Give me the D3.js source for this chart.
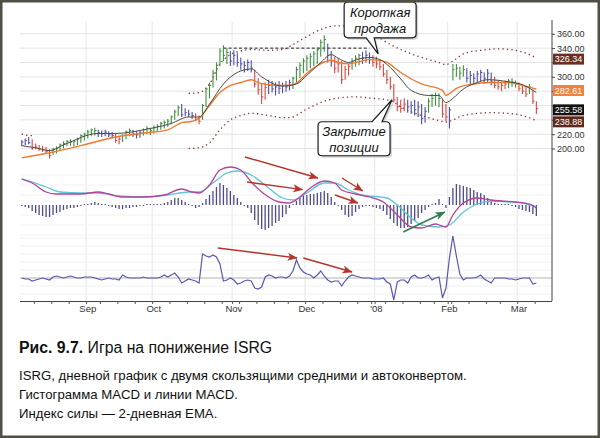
<!DOCTYPE html>
<html><head><meta charset="utf-8">
<script src="https://cdn.jsdelivr.net/npm/d3@7"></script>
<style>body{margin:0;background:#fff}svg{display:block}</style>
</head><body>
<svg id="c" width="600" height="438"></svg>
<script>
// ---------- DATA ----------
// daily bars, 7 Aug 2007 .. 10 Mar 2008 (trading-day index 0..148)
const high = [212,214,216,213,207,205,204,202,199,201,203,207,210,212,213,212,215,220,222,226,
228,229,226,225,226,224,223,221,216,220,225,228,226,224,225,228,231,229,232,234,
237,239,241,246,254,260,262,256,254,251,249,246,262,285,292,310,320,340,344,340,
336,337,333,327,322,324,323,310,298,290,292,296,294,292,294,292,294,296,300,314,
320,326,330,333,336,341,352,358,346,336,328,326,322,315,318,326,330,332,335,337,
334,330,328,325,318,310,300,290,272,268,270,268,266,268,266,262,258,270,276,278,
277,268,262,258,318,318,314,316,312,308,305,308,310,306,311,306,300,296,293,295,
297,298,295,292,289,286,290,282,266];
const low = [203,205,206,198,199,197,195,193,186,191,193,198,200,203,204,203,205,208,211,214,
217,218,216,216,217,216,214,208,206,209,213,217,216,214,215,218,220,219,221,224,
226,228,230,234,240,245,244,245,244,241,238,234,240,258,270,285,295,315,322,318,
315,316,314,310,306,308,306,285,275,262,268,276,278,274,276,277,279,281,283,292,
298,305,308,312,315,318,328,335,320,314,305,306,290,296,302,310,314,316,318,320,
318,314,312,309,300,290,282,264,252,250,252,250,248,246,244,234,236,250,258,260,
258,243,238,228,295,300,296,300,292,288,290,292,294,290,292,288,284,282,280,283,
284,286,285,280,276,272,276,262,248];
const close = [209,211,208,201,202,199,198,196,190,199,200,205,207,210,209,210,213,218,220,223,
226,225,222,221,223,219,218,211,213,218,223,225,220,219,222,226,228,225,229,231,
235,236,238,244,251,257,247,250,248,246,241,238,260,283,288,305,316,336,330,334,
322,330,320,318,316,320,312,290,282,272,285,288,283,286,284,288,286,292,298,310,
316,322,326,328,332,338,348,352,330,322,312,318,296,310,314,322,326,330,326,330,
324,320,318,314,304,296,286,268,258,256,262,258,260,254,258,242,252,266,270,274,
270,248,244,254,310,312,305,310,298,302,298,304,306,298,305,294,288,286,288,290,
294,293,290,284,280,276,286,266,255.58];
// impulse state per bar: g = green, b = blue, r = red
const impulse = ("bbbrrrrrrgggggggggggggbbbbbrrgggbbbggggggggggg" +
  "bbbbrrggggggggbbbbbbbrrrrbbbbbbbggggggggggbbrrrrrgggbbb" +
  "rrrrrrrrrrbbbbbbggggrrbggggbbbbbbbbrrrrgggrrrgrr").split("");
// moving averages and autoenvelope: [bar index, price]
const emaFast = [[0,204],[4,201],[8,197],[12,205],[22,221],[27,221],[36,227],[43,235],[48,244],
[51,244],[54,262],[58,290],[62,306],[66,311],[69,300],[75,287],[79,290],[82,302],[86,320],[89,331],
[91,326],[94,320],[97,325],[100,327],[103,324],[106,313],[109,297],[112,281],[117,274],[120,274],
[122,264],[124,270],[127,283],[131,292],[134,296],[140,293],[144,289],[148,278]];
const emaSlow = [[0,187],[8,194],[17,204],[27,216],[36,222],[42,226],[46,236],[49,238],[51,242],
[54,260],[57,278],[60,288],[63,292],[66,296],[68,292],[71,289],[75,288],[78,289],[83,309],[89,323],
[91,320],[94,318],[97,321],[100,324],[103,323],[105,320],[109,306],[115,290],[121,281],[122,274],
[125,284],[130,290],[135,292],[140,292],[144,288],[148,282.61]];
const envUpperEarly = [[0,220],[1,219],[2,218],[3,218]];
const envUpper = [[48,277],[51,278],[54,290],[57,318],[60,331],[63,336],[66,338],[71,337],[75,338],
[78,345],[82,356],[86,366],[90,371],[94,371],[98,366],[102,357],[106,345],[110,336],[115,327],
[120,320],[122,317],[124,322],[127,332],[132,337],[137,339],[142,337],[146,331],[148,326.34]];
const envLower = [[48,200],[51,201],[54,208],[57,226],[60,240],[63,246],[66,249],[71,246],[75,243],
[77,243],[82,255],[87,266],[92,271],[96,272],[101,270],[106,267],[109,258],[115,246],[120,239],
[122,237],[127,246],[135,250],[142,248],[148,238.88]];
const lastTags = [326.34, 282.61, 255.58, 238.88];
const resistance = {from:58, to:100, price:340};
// MACD
const macdHist = [-0.5,-1,-1.5,-3,-4,-5,-5.5,-6,-6,-5,-4,-3.5,-2.5,-2,-1.5,-1.5,-1,-0.5,0,0.5,
1,1.5,1,0.5,0,-0.5,-1,-1.5,-2,-2,-1.5,-1.5,-1,-1,-0.5,-0.5,0,0,0,0,
0.5,1,1.5,2.5,3.5,3.5,2.5,1.5,0.5,-0.5,-1.5,-1,1,3,5,7,9,11,10,8.5,
7,5,3.5,1.5,-0.5,-1.5,-4,-7.5,-10,-12,-12.5,-11.5,-10.5,-9,-8,-6,-4.5,-1.5,0.5,2,
3.5,5,5,5.5,5.5,6,6.5,7,6,4,1.5,-0.5,-2.5,-5,-6,-5.5,-3.5,-2,-1,-0.5,
-0.5,-1,-1.5,-2,-3,-5,-7,-9,-10.5,-11.5,-11.5,-11,-9.5,-8,-6.5,-4,-2.5,-1,0.5,1,
3,0,-1.5,4,8.5,10.5,10,9.5,9,8.5,7.5,6.5,6,5,3.5,2,1,0.5,0,0,
0,-0.5,-1,-2,-2.5,-3,-3.5,-4.5,-5.5];
const macdLine = [[0,13],[3,11],[7,6.5],[10,5.5],[13,5.5],[17,5.5],[22,6.5],[25,5.5],[29,4],[35,4],
[41,5],[46,8],[49,6.5],[51,6],[54,10],[57,17.5],[60,19],[63,17.5],[66,11.5],[71,4],[74,1.5],[77,1],
[80,4],[83,8.5],[87,12],[90,11],[92,7.5],[96,5.5],[100,4],[104,1.5],[108,-5],[112,-11],[115,-11.5],
[119,-9.5],[122,-11],[124,-5],[127,1],[131,3.5],[135,2.5],[138,2],[142,1.5],[146,0.5],[148,-1.5]];
const macdSignal = [[0,13],[3,11.5],[7,9],[11,6.5],[17,6],[22,6],[28,4.5],[35,4],[42,5],[48,6.5],
[51,6.5],[55,11],[59,16],[62,17],[66,15],[71,8.5],[75,3.5],[78,2.5],[82,6],[87,11],[90,11],[94,7.5],
[98,5],[105,3.5],[108,0],[112,-6.5],[115,-10],[120,-11],[123,-10],[127,-3.5],[131,0.5],[135,2],
[140,1.5],[144,1],[148,-1]];
// Force index, 2-day EMA
const force = [0,-1,-1,-3,-2,-1,0,-1,-2,1,2,1,0,1,2,1,0,0,1,1,
1,0,-1,-2,-1,0,-1,-1,-2,3,1,0,0,0,0,1,0,0,0,0,
1,3,1,3,5,1,-5,-3,-1,-2,-3,-5,24,22,21,23,21,14,-3,-2,
0,-2,-6,-5,-3,-2,-3,-10,-11,-9,1,3,2,0,1,1,0,2,7,18,
10,6,4,3,0,3,7,2,-2,-4,-3,-3,-8,-3,1,3,2,1,0,0,
0,-1,-1,-1,0,-4,-6,-22,-4,-2,-2,-5,1,3,0,0,1,3,-2,0,
1,-20,-10,20,42,22,4,-2,0,0,0,1,3,-1,-3,-5,0,0,0,0,
-1,-1,-2,-1,0,0,0,-6,-5];
// arrows: [bar index, value]
const macdArrows = [
  {from:[64.2,24], to:[85.2,13.5], kind:"red"},
  {from:[64.8,11.5], to:[80.8,7.7], kind:"red"},
  {from:[92.1,13.5], to:[98.1,7], kind:"red"},
  {from:[90.1,5], to:[96.7,1], kind:"red"},
  {from:[109.7,-13.5], to:[121.7,-3.5], kind:"green"}];
const forceArrows = [
  {from:[56.4,30], to:[79.2,20], kind:"red"},
  {from:[81,20], to:[95,6], kind:"red"}];
// axis ticks
const priceGrid = [200,220,240,260,280,300,320,340,360];
const priceLabels = [200,220,300,340,360];
const monthTicks = [{i:19,t:"Sep"},{i:38,t:"Oct"},{i:61,t:"Nov"},{i:82,t:"Dec"},{i:102,t:"'08"},{i:123,t:"Feb"},{i:143,t:"Mar"}];
const weekTicks = [4,9,14,19,23,28,33,38,43,48,53,58,61,63,68,73,77,82,87,92,97,101,102,105,110,115,119,123,124,129,134,138,143,148];
const callouts = [
  {lines:["Короткая","продажа"], tip:[102.5,332]},
  {lines:["Закрытие","позиции"], tip:[106.5,268]}];
const captionTitleBold = "Рис. 9.7.";
const captionTitle = " Игра на понижение ISRG";
const captionLines = ["ISRG, дневной график с двумя скользящими средними и автоконвертом.",
  "Гистограмма MACD и линии MACD.", "Индекс силы — 2-дневная EMA."];

// ---------- STYLE ----------
const impulseColor = {g:"#3f8f3f", b:"#4d4da6", r:"#d9453f"};
const tagFill = ["#6b2f22","#f0823f","#111111","#5f281d"];
const arrowColor = {red:"#b5352b", green:"#2f7d4f"};
const font = "'Liberation Sans', Arial, sans-serif";

// ---------- DRAW ----------
const svg = d3.select("#c");
svg.append("rect").attr("width",600).attr("height",438).attr("fill","#fff");
const N = high.length;
const x = d3.scaleLinear().domain([0,153]).range([20,552]);
const xc = i => x(i + 0.5);
const yP = d3.scaleLinear().domain([200,360]).range([148.5,33.8]);
const yM = d3.scaleLinear().domain([-20,20]).range([245,165]);
const yF = d3.scaleLinear().domain([-25,45]).range([303,233]);

const defs = svg.append("defs");
defs.append("clipPath").attr("id","cp").append("rect").attr("x",20).attr("y",16).attr("width",532).attr("height",152);
Object.entries(arrowColor).forEach(([k,c]) => {
  defs.append("marker").attr("id","ah-"+k).attr("markerUnits","userSpaceOnUse")
    .attr("markerWidth",11).attr("markerHeight",9).attr("refX",9.5).attr("refY",4.5).attr("orient","auto")
    .append("path").attr("d","M0,0.5 L10,4.5 L0,8.5 L2.5,4.5 Z").attr("fill",c);
});

// grids
const grid = svg.append("g");
grid.selectAll(".vg").data(monthTicks).join("line")
  .attr("x1",d=>x(d.i)).attr("x2",d=>x(d.i)).attr("y1",22).attr("y2",301)
  .attr("stroke","#e6e6e6").attr("stroke-width",1);
grid.selectAll(".pg").data(priceGrid).join("line")
  .attr("x1",20).attr("x2",552).attr("y1",d=>yP(d)).attr("y2",d=>yP(d))
  .attr("stroke","#e3e3e3");
grid.selectAll(".mg").data([-15,-10,-5,5,10,15]).join("line")
  .attr("x1",20).attr("x2",552).attr("y1",d=>yM(d)).attr("y2",d=>yM(d)).attr("stroke","#f1f1f1");
grid.selectAll(".fg").data([-16,-8,8,16,24,32,40]).join("line")
  .attr("x1",20).attr("x2",552).attr("y1",d=>yF(d)).attr("y2",d=>yF(d)).attr("stroke","#f1f1f1");

// price panel
const pp = svg.append("g").attr("clip-path","url(#cp)");
const lineP = d3.line().x(d=>xc(d[0])).y(d=>yP(d[1])).curve(d3.curveMonotoneX);
[envUpperEarly, envUpper, envLower].forEach(arr => pp.append("path").attr("d",lineP(arr))
  .attr("fill","none").attr("stroke","#8a2e2a").attr("stroke-width",1.3)
  .attr("stroke-dasharray","1.3,3.2"));
pp.append("line").attr("x1",xc(resistance.from)).attr("x2",xc(resistance.to))
  .attr("y1",yP(resistance.price)).attr("y2",yP(resistance.price))
  .attr("stroke","#222").attr("stroke-width",1).attr("stroke-dasharray","3,2.2");
const idx = d3.range(N);
pp.selectAll(".bar").data(idx).join("line")
  .attr("x1",xc).attr("x2",xc).attr("y1",i=>yP(high[i])).attr("y2",i=>yP(low[i]))
  .attr("stroke",i=>impulseColor[impulse[i]]).attr("stroke-width",1.1);
pp.selectAll(".cl").data(idx).join("line")
  .attr("x1",xc).attr("x2",i=>xc(i)+1.7).attr("y1",i=>yP(close[i])).attr("y2",i=>yP(close[i]))
  .attr("stroke",i=>impulseColor[impulse[i]]).attr("stroke-width",1);
pp.append("path").attr("d",lineP(emaSlow)).attr("fill","none").attr("stroke","#f07a2c").attr("stroke-width",1.4);
pp.append("path").attr("d",lineP(emaFast)).attr("fill","none").attr("stroke","#4a4a4a").attr("stroke-width",1);

// MACD panel
const mp = svg.append("g");
mp.selectAll(".h").data(idx).join("line")
  .attr("x1",xc).attr("x2",xc).attr("y1",yM(0))
  .attr("y2",i=> Math.abs(macdHist[i])<0.5 ? yM(0)+ (macdHist[i]<0?1:-1) : yM(macdHist[i]))
  .attr("stroke","#4b4b8e").attr("stroke-width",1.3);
const lineM = d3.line().x(d=>xc(d[0])).y(d=>yM(d[1])).curve(d3.curveMonotoneX);
mp.append("path").attr("d",lineM(macdSignal)).attr("fill","none").attr("stroke","#5cc5d6").attr("stroke-width",1.3);
mp.append("path").attr("d",lineM(macdLine)).attr("fill","none").attr("stroke","#b4429c").attr("stroke-width",1.3);

// Force panel
const fp = svg.append("g");
fp.append("line").attr("x1",20).attr("x2",552).attr("y1",yF(0)).attr("y2",yF(0)).attr("stroke","#b4b4b4").attr("stroke-width",1.2);
fp.append("path").attr("d",d3.line().x((d,i)=>xc(i)).y(d=>yF(d))(force))
  .attr("fill","none").attr("stroke","#5858b3").attr("stroke-width",1.2);

// arrows
const drawArrows = (arr, ys) => svg.append("g").selectAll("line").data(arr).join("line")
  .attr("x1",d=>xc(d.from[0])).attr("y1",d=>ys(d.from[1]))
  .attr("x2",d=>xc(d.to[0])).attr("y2",d=>ys(d.to[1]))
  .attr("stroke",d=>arrowColor[d.kind]).attr("stroke-width",1.4)
  .attr("marker-end",d=>"url(#ah-"+d.kind+")");
drawArrows(macdArrows, yM);
drawArrows(forceArrows, yF);

// right axis
const ax = svg.append("g");
ax.append("line").attr("x1",552).attr("x2",552).attr("y1",20).attr("y2",301).attr("stroke","#444").attr("stroke-width",1);
const ra = ax.append("g").attr("transform","translate(552,0)")
  .call(d3.axisRight(yP).tickValues(priceGrid).tickSize(3).tickPadding(2)
    .tickFormat(d=> priceLabels.includes(d) ? d3.format(".2f")(d) : ""));
ra.select(".domain").remove();
ra.selectAll("line").attr("stroke","#444");
ra.selectAll("text").attr("font-family",font).attr("font-size",9).attr("fill","#333");
const tags = ax.selectAll(".tag").data(lastTags).join("g")
  .attr("transform",d=>`translate(553,${yP(d)+1.2})`);
tags.append("rect").attr("x",0).attr("y",-5.5).attr("width",31).attr("height",11).attr("fill",(d,i)=>tagFill[i]);
tags.append("text").attr("x",15.5).attr("y",3.3).attr("text-anchor","middle")
  .attr("font-family",font).attr("font-size",9).attr("fill","#fff").text(d=>d3.format(".2f")(d));

// bottom axis
const ba = svg.append("g").attr("transform","translate(0,301)")
  .call(d3.axisBottom(x).tickValues(weekTicks).tickSize(3).tickFormat(""));
ba.select(".domain").attr("d","M20,0.5H552").attr("stroke","#444");
ba.selectAll("line").attr("stroke","#555");
svg.append("g").selectAll("text").data(monthTicks).join("text")
  .attr("x",d=>xc(d.i)).attr("y",312).attr("text-anchor","middle")
  .attr("font-family",font).attr("font-size",9.5).attr("fill","#333").text(d=>d.t);

// callouts
const cfg = [{L:-34,R:38,T:-52,B:-16,b1:-12,b2:-4,top:false,base:[15,31]},
             {L:-74,R:-2,T:22,B:56,b1:-20,b2:-10,top:true,base:[14.5,30.5]}];
callouts.forEach((c,k) => {
  const tx = xc(c.tip[0]), ty = yP(c.tip[1]), s = cfg[k], r = 4;
  const L=tx+s.L, R=tx+s.R, T=ty+s.T, B=ty+s.B;
  let d;
  if (!s.top) {
    d = `M${L+r},${T}H${R-r}Q${R},${T} ${R},${T+r}V${B-r}Q${R},${B} ${R-r},${B}H${tx+s.b2}L${tx},${ty}L${tx+s.b1},${B}H${L+r}Q${L},${B} ${L},${B-r}V${T+r}Q${L},${T} ${L+r},${T}Z`;
  } else {
    d = `M${L+r},${T}H${tx+s.b1}L${tx},${ty}L${tx+s.b2},${T}H${R-r}Q${R},${T} ${R},${T+r}V${B-r}Q${R},${B} ${R-r},${B}H${L+r}Q${L},${B} ${L},${B-r}V${T+r}Q${L},${T} ${L+r},${T}Z`;
  }
  const g = svg.append("g");
  g.append("path").attr("d",d).attr("transform","translate(2,2)").attr("fill","#bdbdbd").attr("opacity",0.6);
  g.append("path").attr("d",d).attr("fill","#fff").attr("stroke","#1a1a1a").attr("stroke-width",1.2);
  c.lines.forEach((t,j) => g.append("text").attr("x",(L+R)/2).attr("y",T+s.base[j])
    .attr("text-anchor","middle").attr("font-family",font)
    .attr("font-style","italic").attr("font-size",13).attr("fill","#111").text(t));
});

// caption
const cap = svg.append("g").attr("font-family",font).attr("fill","#111");
const t1 = cap.append("text").attr("x",19).attr("y",353).attr("font-size",15.8);
t1.append("tspan").attr("font-weight","bold").text(captionTitleBold);
t1.append("tspan").text(captionTitle);
captionLines.forEach((t,j) => cap.append("text").attr("x",19).attr("y",[380,399,418][j]).attr("font-size",13.2).text(t));

// frame
svg.append("rect").attr("x",1.25).attr("y",1.25).attr("width",597.5).attr("height",435.5)
  .attr("fill","none").attr("stroke","#4f4f44").attr("stroke-width",2.5);
</script>
</body></html>
